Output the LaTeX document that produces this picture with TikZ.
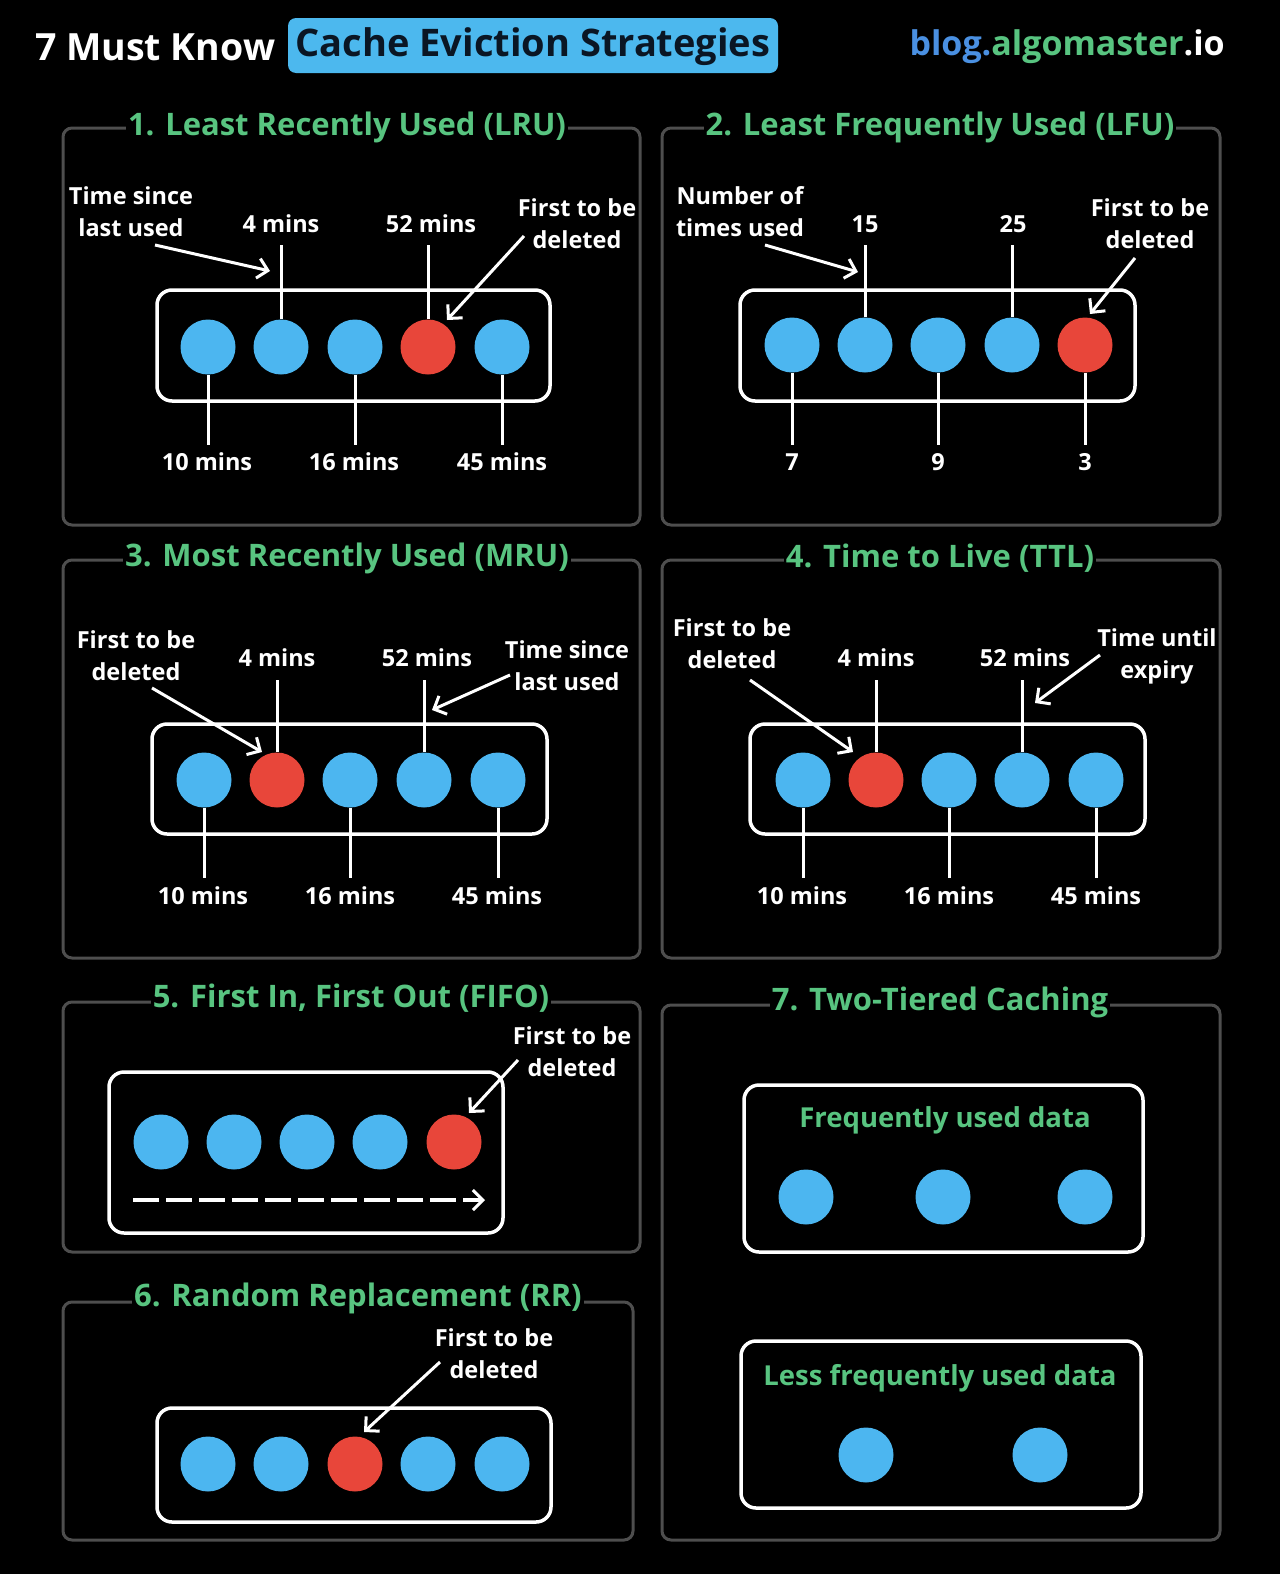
\documentclass[tikz,border=0pt]{standalone}
\usepackage{fontspec}
\setmainfont{Open Sans}
\usetikzlibrary{arrows.meta}
\definecolor{cb}{RGB}{76,182,240}
\definecolor{cr}{RGB}{232,70,58}
\definecolor{cg}{RGB}{88,196,128}
\definecolor{pg}{RGB}{78,78,78}
\definecolor{hb}{RGB}{76,184,238}
\definecolor{lb}{RGB}{74,144,226}
\definecolor{dk}{RGB}{10,22,36}
\tikzset{
  panel/.style={draw=pg, line width=3pt, rounded corners=9pt},
  inner/.style={draw=white, line width=3.5pt, rounded corners=15pt},
  dot/.style={circle, minimum size=55pt, inner sep=0pt, draw=none},
  stem/.style={draw=white, line width=3pt},
  arr/.style={draw=white, line width=3pt, -{Straight Barb[length=10pt,width=20pt,line width=3pt]}},
  ptitle/.style={fill=black, inner xsep=2pt, inner ysep=2pt, text=cg, font=\bfseries\fontsize{31}{36}\selectfont},
  lbl/.style={text=white, align=center, inner sep=0pt, font=\bfseries\fontsize{23.5}{32}\selectfont},
  tlbl/.style={text=cg, inner sep=0pt, font=\bfseries\fontsize{27.5}{32}\selectfont},
}
\begin{document}
\begin{tikzpicture}[x=1pt,y=-1pt]
\fill[black] (0,0) rectangle (1280,1574);
\useasboundingbox (0,0) rectangle (1280,1574);

% ---- header
\fill[hb, rounded corners=8pt] (288,18) rectangle (778,73);
\node[anchor=west, text=white, inner sep=0pt, font=\bfseries\fontsize{37.5}{42}\selectfont] (h1) at (35,47) {7 Must Know};
\node[text=dk, inner sep=0pt, font=\bfseries\fontsize{38}{42}\selectfont] (h2) at (533,47) {Cache Eviction Strategies};
\node[anchor=east, inner sep=0pt, font=\bfseries\fontsize{34}{40}\selectfont] (h3) at (1225,47) {\textcolor{lb}{blog.}\textcolor{cg}{algomaster}\textcolor{white}{.io}};

% ---- panel frames
\draw[panel] (63,128) rectangle (640,525);
\draw[panel] (662,128) rectangle (1220,525);
\draw[panel] (63,560) rectangle (640,958);
\draw[panel] (662,560) rectangle (1220,958);
\draw[panel] (63,1002) rectangle (640,1252);
\draw[panel] (63,1302) rectangle (633,1540);
\draw[panel] (662,1005) rectangle (1220,1540);
\node[ptitle] (p1) at (347,127) {1. Least Recently Used (LRU)};
\node[ptitle] (p2) at (940,127) {2. Least Frequently Used (LFU)};
\node[ptitle] (p3) at (347,558) {3. Most Recently Used (MRU)};
\node[ptitle] (p4) at (940,558) {4. Time to Live (TTL)};
\node[ptitle] (p5) at (351,998) {5. First In, First Out (FIFO)};
\node[ptitle] (p6) at (358,1298) {6. Random Replacement (RR)};
\node[ptitle] (p7) at (940,1002) {7. Two-Tiered Caching};

% ---- panel 1 LRU
\draw[inner] (157,290) rectangle (550,401);
\foreach \x/\c [count=\i] in {208/cb,281/cb,355/cb,428/cr,502/cb}
  \node[dot, fill=\c] (a\i) at (\x,347) {};
\node[lbl] (a2t) at (281,224) {4 mins};
\node[lbl] (a4t) at (431,224) {52 mins};
\node[lbl] (a1t) at (207,462) {10 mins};
\node[lbl] (a3t) at (354,462) {16 mins};
\node[lbl] (a5t) at (502,462) {45 mins};
\coordinate (a2s) at (281,245); \coordinate (a4s) at (428,245);
\coordinate (a1s) at (208,445); \coordinate (a3s) at (355,445); \coordinate (a5s) at (502,445);
\draw[stem] (a2.north) -- (a2s);
\draw[stem] (a4.north) -- (a4s);
\draw[stem] (a1.south) -- (a1s);
\draw[stem] (a3.south) -- (a3s);
\draw[stem] (a5.south) -- (a5s);
\node[lbl] (aL) at (131,212) {Time since\\last used};
\node[lbl] (aR) at (577,224) {First to be\\deleted};
\coordinate (aL0) at (155,245); \coordinate (aL1) at (270,271);
\coordinate (aR0) at (524,236); \coordinate (aR1) at (447,320);
\draw[arr] (aL0) -- (aL1);
\draw[arr] (aR0) -- (aR1);

% ---- panel 2 LFU
\draw[inner] (740,290) rectangle (1135,401);
\foreach \x/\c [count=\i] in {792/cb,865/cb,938/cb,1012/cb,1085/cr}
  \node[dot, fill=\c] (b\i) at (\x,345) {};
\node[lbl] (b2t) at (865,224) {15};
\node[lbl] (b4t) at (1013,224) {25};
\node[lbl] (b1t) at (792,462) {7};
\node[lbl] (b3t) at (938,462) {9};
\node[lbl] (b5t) at (1085,462) {3};
\coordinate (b2s) at (865,245); \coordinate (b4s) at (1012,245);
\coordinate (b1s) at (792,445); \coordinate (b3s) at (938,445); \coordinate (b5s) at (1085,445);
\draw[stem] (b2.north) -- (b2s);
\draw[stem] (b4.north) -- (b4s);
\draw[stem] (b1.south) -- (b1s);
\draw[stem] (b3.south) -- (b3s);
\draw[stem] (b5.south) -- (b5s);
\node[lbl] (bL) at (740,212) {Number of\\times used};
\node[lbl] (bR) at (1150,224) {First to be\\deleted};
\coordinate (bL0) at (765,245); \coordinate (bL1) at (858,272);
\coordinate (bR0) at (1135,258); \coordinate (bR1) at (1090,314);
\draw[arr] (bL0) -- (bL1);
\draw[arr] (bR0) -- (bR1);

% ---- panel 3 MRU
\draw[inner] (152,724) rectangle (547,834);
\foreach \x/\c [count=\i] in {204/cb,277/cr,350/cb,424/cb,498/cb}
  \node[dot, fill=\c] (c\i) at (\x,780) {};
\node[lbl] (c2t) at (277,658) {4 mins};
\node[lbl] (c4t) at (427,658) {52 mins};
\node[lbl] (c1t) at (203,896) {10 mins};
\node[lbl] (c3t) at (350,896) {16 mins};
\node[lbl] (c5t) at (497,896) {45 mins};
\coordinate (c2s) at (277,680); \coordinate (c4s) at (424,680);
\coordinate (c1s) at (204,878); \coordinate (c3s) at (350,878); \coordinate (c5s) at (498,878);
\draw[stem] (c2.north) -- (c2s);
\draw[stem] (c4.north) -- (c4s);
\draw[stem] (c1.south) -- (c1s);
\draw[stem] (c3.south) -- (c3s);
\draw[stem] (c5.south) -- (c5s);
\node[lbl] (cL) at (136,656) {First to be\\deleted};
\node[lbl] (cR) at (567,666) {Time since\\last used};
\coordinate (cL0) at (152,688); \coordinate (cL1) at (262,752);
\coordinate (cR0) at (510,675); \coordinate (cR1) at (432,710);
\draw[arr] (cL0) -- (cL1);
\draw[arr] (cR0) -- (cR1);

% ---- panel 4 TTL
\draw[inner] (750,724) rectangle (1145,834);
\foreach \x/\c [count=\i] in {803/cb,876/cr,949/cb,1022/cb,1096/cb}
  \node[dot, fill=\c] (d\i) at (\x,780) {};
\node[lbl] (d2t) at (876,658) {4 mins};
\node[lbl] (d4t) at (1025,658) {52 mins};
\node[lbl] (d1t) at (802,896) {10 mins};
\node[lbl] (d3t) at (949,896) {16 mins};
\node[lbl] (d5t) at (1096,896) {45 mins};
\coordinate (d2s) at (876,680); \coordinate (d4s) at (1022,680);
\coordinate (d1s) at (803,878); \coordinate (d3s) at (949,878); \coordinate (d5s) at (1096,878);
\draw[stem] (d2.north) -- (d2s);
\draw[stem] (d4.north) -- (d4s);
\draw[stem] (d1.south) -- (d1s);
\draw[stem] (d3.south) -- (d3s);
\draw[stem] (d5.south) -- (d5s);
\node[lbl] (dL) at (732,644) {First to be\\deleted};
\node[lbl] (dR) at (1157,656) {Time until\\expiry};
\coordinate (dL0) at (750,680); \coordinate (dL1) at (853,752);
\coordinate (dR0) at (1100,655); \coordinate (dR1) at (1035,703);
\draw[arr] (dL0) -- (dL1);
\draw[arr] (dR0) -- (dR1);

% ---- panel 5 FIFO
\draw[inner] (109,1072) rectangle (503,1233);
\foreach \x/\c [count=\i] in {161/cb,234/cb,307/cb,380/cb,454/cr}
  \node[dot, fill=\c] (e\i) at (\x,1142) {};
\coordinate (eA0) at (133,1200); \coordinate (eA1) at (485,1200);
\draw[arr, line width=3.5pt, dash pattern=on 26pt off 7pt] (eA0) -- (eA1);
\node[lbl] (eR) at (572,1052) {First to be\\deleted};
\coordinate (eR0) at (518,1060); \coordinate (eR1) at (469,1113);
\draw[arr] (eR0) -- (eR1);

% ---- panel 6 RR
\draw[inner] (157,1408) rectangle (551,1522);
\foreach \x/\c [count=\i] in {208/cb,281/cb,355/cr,428/cb,502/cb}
  \node[dot, fill=\c] (f\i) at (\x,1464) {};
\node[lbl] (fR) at (494,1354) {First to be\\deleted};
\coordinate (fR0) at (440,1362); \coordinate (fR1) at (364,1432);
\draw[arr] (fR0) -- (fR1);

% ---- panel 7 two-tier
\draw[inner] (744,1085) rectangle (1143,1252);
\node[tlbl] (g1t) at (945,1120) {Frequently used data};
\foreach \x [count=\i] in {806,943,1085}
  \node[dot, fill=cb] (g\i) at (\x,1197) {};
\draw[inner] (741,1341) rectangle (1141,1508);
\node[tlbl] (h1t) at (940,1378) {Less frequently used data};
\foreach \x [count=\i] in {866,1040}
  \node[dot, fill=cb] (k\i) at (\x,1455) {};
\end{tikzpicture}
\end{document}
